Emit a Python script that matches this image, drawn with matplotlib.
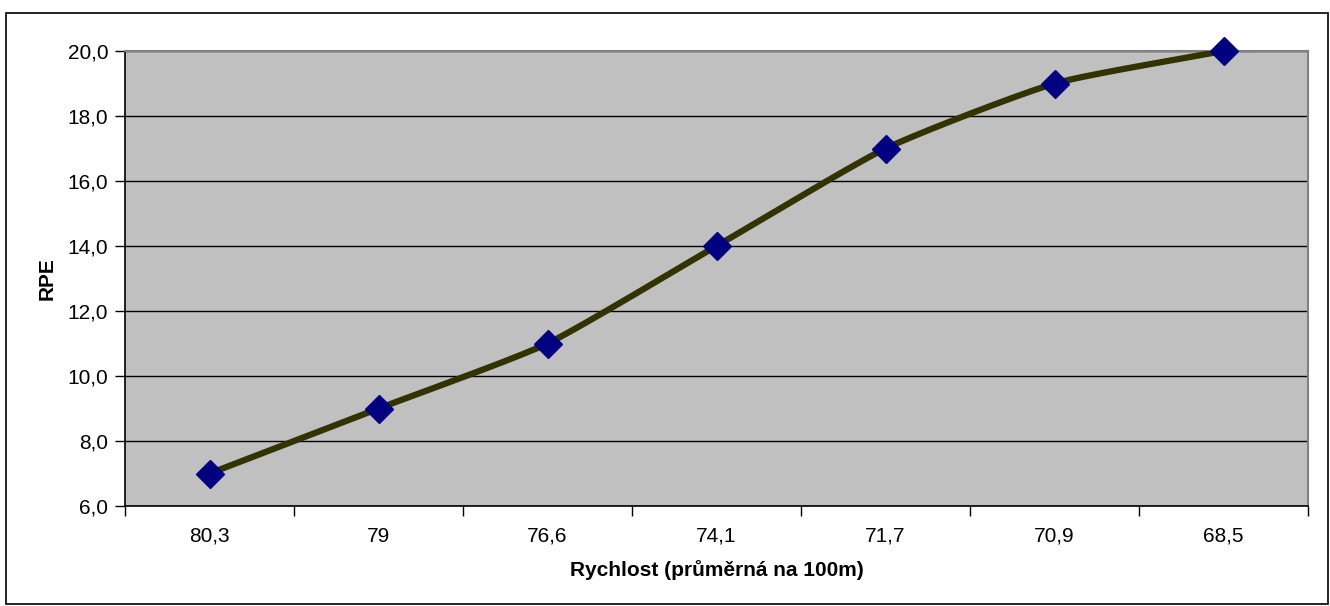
import matplotlib
matplotlib.use("Agg")
import matplotlib.pyplot as plt
import numpy as np
from matplotlib.patches import Rectangle

# data
categories = ["80,3", "79", "76,6", "74,1", "71,7", "70,9", "68,5"]
rpe = [7, 9, 11, 14, 17, 19, 20]

W, H = 1330, 606


def smooth(xs, ys, tension=0.55, n=30):
    """cardinal spline through the points (close to Excel's smoothed line)"""
    pts = np.column_stack([xs, ys]).astype(float)
    ext = np.vstack([2 * pts[0] - pts[1], pts, 2 * pts[-1] - pts[-2]])
    tang = tension * (ext[2:] - ext[:-2]) / 2
    t = np.linspace(0, 1, n)[:, None]
    h00 = 2 * t ** 3 - 3 * t ** 2 + 1
    h10 = t ** 3 - 2 * t ** 2 + t
    h01 = -2 * t ** 3 + 3 * t ** 2
    h11 = t ** 3 - t ** 2
    segs = [h00 * pts[i] + h10 * tang[i] + h01 * pts[i + 1] + h11 * tang[i + 1]
            for i in range(len(pts) - 1)]
    curve = np.vstack(segs)
    return curve[:, 0], curve[:, 1]


plt.rcParams["font.family"] = ["Liberation Sans", "DejaVu Sans"]

fig = plt.figure(figsize=(W / 100, H / 100), dpi=100)
ax = fig.add_axes([125 / W, 1 - 506 / H, (1308 - 125) / W, (506 - 51) / H])
ax.set_facecolor("#C0C0C0")

x = np.arange(len(categories), dtype=float)
sx, sy = smooth(x, rpe)
ax.plot(sx, sy, color="#333300", lw=4.5, solid_capstyle="round", zorder=3)
ax.plot(x, rpe, "D", color="#000080", ms=14.5, mec="#000080", zorder=4, clip_on=False)

ax.set_xlim(-0.5, len(categories) - 0.5)
ax.set_ylim(6, 20)
yt = np.arange(6, 21, 2)
ax.set_yticks(yt)
ax.set_yticklabels([f"{v:.1f}".replace(".", ",") for v in yt], fontsize=15)
ax.yaxis.grid(True, color="black", lw=1)
ax.set_axisbelow(True)

# category ticks sit between the categories, labels at the centres
ax.set_xticks(np.arange(-0.5, len(categories), 1.0))
ax.set_xticklabels([])
ax.set_xticks(x, minor=True)
ax.set_xticklabels(categories, minor=True, fontsize=15)
ax.tick_params(axis="x", which="minor", length=0, pad=15)
ax.tick_params(axis="x", which="major", length=7, width=1, direction="out")
ax.tick_params(axis="y", length=7, width=1, direction="out", pad=5)

for side in ("top", "right"):
    ax.spines[side].set_color("#808080")
    ax.spines[side].set_linewidth(1.5)
for side in ("left", "bottom"):
    ax.spines[side].set_color("black")
    ax.spines[side].set_linewidth(1.2)

ax.set_xlabel("Rychlost (průměrná na 100m)", fontsize=15, fontweight="bold", labelpad=10)
ax.set_ylabel("RPE", fontsize=15, fontweight="bold", labelpad=8)

fig.patches.append(Rectangle((6 / W, 1 - 604 / H), (1328 - 6) / W, (604 - 13) / H,
                             transform=fig.transFigure, fill=False, ec="black", lw=1.2))

fig.savefig("out.png", dpi=100)
